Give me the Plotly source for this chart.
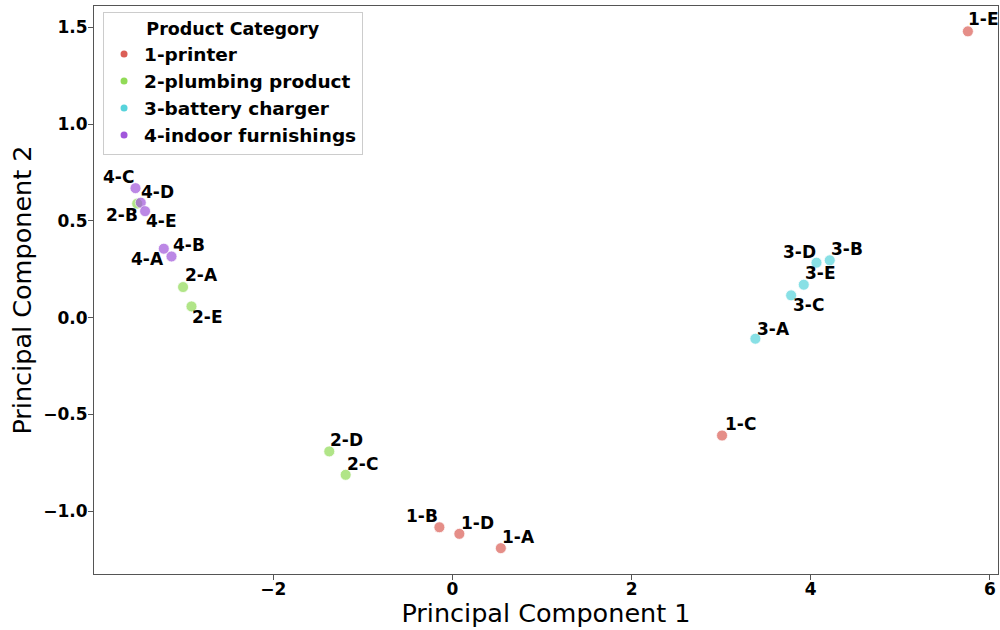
import plotly.graph_objects as go

# ---- data ----
categories = ["1-printer", "2-plumbing product", "3-battery charger", "4-indoor furnishings"]
labels = ["1-A", "1-B", "1-C", "1-D", "1-E",
          "2-A", "2-B", "2-C", "2-D", "2-E",
          "3-A", "3-B", "3-C", "3-D", "3-E",
          "4-A", "4-B", "4-C", "4-D", "4-E"]
pc1 = [0.541, -0.145, 3.010, 0.078, 5.754,
       -3.006, -3.518, -1.191, -1.374, -2.912,
       3.382, 4.212, 3.781, 4.064, 3.922,
       -3.221, -3.135, -3.537, -3.478, -3.430]
pc2 = [-1.191, -1.083, -0.609, -1.117, 1.479,
       0.158, 0.589, -0.812, -0.691, 0.058,
       -0.109, 0.296, 0.115, 0.284, 0.170,
       0.356, 0.316, 0.669, 0.594, 0.550]
group = [0]*5 + [1]*5 + [2]*5 + [3]*5
x_ticks = [-2, 0, 2, 4, 6]
y_ticks = [-1.0, -0.5, 0.0, 0.5, 1.0, 1.5]

# ---- styles ----
colors = ["#db5f57", "#91db57", "#57d3db", "#a157db"]
# label offsets in pixels (dx right, dy up)
label_offsets = {
    "1-A": (18, 11), "1-B": (-17, 11), "1-C": (18, 12), "1-D": (18, 11), "1-E": (16, 12),
    "2-A": (18, 12), "2-B": (-15, -11), "2-C": (17, 11), "2-D": (17, 11), "2-E": (16, -11),
    "3-A": (18, 10), "3-B": (17, 11), "3-C": (17, -10), "3-D": (-17, 11), "3-E": (17, 12),
    "4-A": (-16, -10), "4-B": (17, 11), "4-C": (-17, 11), "4-D": (17, 11), "4-E": (16, -10),
}
font_bold = "DejaVu Sans"

fig = go.Figure()
for gi, cat in enumerate(categories):
    xs = [pc1[i] for i in range(len(labels)) if group[i] == gi]
    ys = [pc2[i] for i in range(len(labels)) if group[i] == gi]
    fig.add_trace(go.Scatter(
        x=xs, y=ys, mode="markers", showlegend=False,
        marker=dict(size=11, color=colors[gi], opacity=0.7,
                    line=dict(color="white", width=0.8)),
        hoverinfo="skip"))
for gi, cat in enumerate(categories):
    fig.add_trace(go.Scatter(
        x=[None], y=[None], mode="markers", name="<b>" + cat + "</b>",
        marker=dict(size=7, color=colors[gi])))

for i, lab in enumerate(labels):
    dx, dy = label_offsets[lab]
    fig.add_annotation(x=pc1[i], y=pc2[i], text="<b>" + lab + "</b>",
                       showarrow=False, xshift=dx, yshift=dy,
                       font=dict(family=font_bold, size=17, color="black"))

axis_common = dict(showline=True, mirror=True, linecolor="#555555", linewidth=1.2,
                   ticks="outside", ticklen=5, tickcolor="#555555", showgrid=False,
                   zeroline=False, automargin=False,
                   tickfont=dict(family=font_bold, size=17, color="black", weight="bold"))

fig.update_layout(
    width=1000, height=630,
    margin=dict(l=94, r=2, t=6, b=56),
    plot_bgcolor="white", paper_bgcolor="white",
    xaxis=dict(range=[-4.0, 6.09], tickvals=x_ticks, ticklabelstandoff=-6,
               title=dict(text="Principal Component 1", standoff=6,
                          font=dict(family="DejaVu Sans", size=25.5, color="black")),
               **axis_common),
    yaxis=dict(range=[-1.3245, 1.610], tickvals=y_ticks, tickformat=".1f",
               ticklabelstandoff=-3,
               title=dict(text="Principal Component 2", standoff=4,
                          font=dict(family="DejaVu Sans", size=25.5, color="black")),
               **axis_common),
    legend=dict(x=0.01, y=0.99, xanchor="left", yanchor="top",
                bgcolor="rgba(255,255,255,0.8)", bordercolor="#cccccc", borderwidth=1,
                title=dict(text="<b>Product Category</b>", side="top center",
                           font=dict(family=font_bold, size=17.5, color="black")),
                font=dict(family=font_bold, size=18.5, color="black"),
                itemsizing="trace", tracegroupgap=0),
)

fig.write_html("out.html", config={"displayModeBar": False},
               post_script="document.body.style.margin='0';document.body.style.overflow='hidden';")
